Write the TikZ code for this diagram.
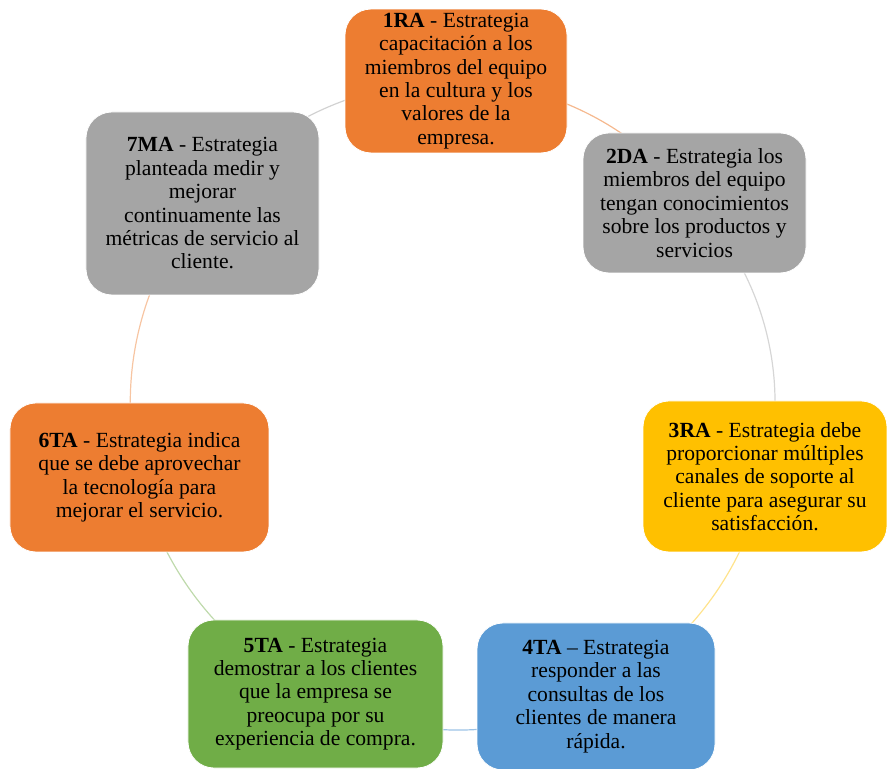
\documentclass[tikz,border=0pt]{standalone}
\usepackage{fontspec}
\setmainfont{Liberation Serif}
\usetikzlibrary{backgrounds}

\definecolor{naranja}{HTML}{ED7D31}
\definecolor{gris}{HTML}{A5A5A5}
\definecolor{amarillo}{HTML}{FFC000}
\definecolor{azul}{HTML}{5B9BD5}
\definecolor{verde}{HTML}{70AD47}

\tikzset{
  caja/.style={rounded corners=13pt,align=center,inner sep=2pt,draw=white,line width=0.4pt,
    font=\fontsize{10.8}{11.7}\selectfont,text=black},
  arco/.style={line width=0.6pt,looseness=0.9}
}

\begin{document}
\begin{tikzpicture}[x=0.5pt,y=0.5pt]
            \useasboundingbox (-456,-363) rectangle (431,406);

            \node[caja,fill=naranja,minimum width=111pt,minimum height=71pt] (e_1) at (0,325)
              {\textbf{1RA} - Estrategia\\capacitación a los\\miembros del equipo\\en la cultura y los\\valores de la\\empresa.};
            \node[caja,fill=gris,minimum width=111.5pt,minimum height=70pt] (e_2) at (238.5,203)
              {\textbf{2DA} - Estrategia los\\miembros del equipo\\tengan conocimientos\\sobre los productos y\\servicios};
            \node[caja,fill=amarillo,minimum width=122pt,minimum height=75.5pt] (e_3) at (309,-70.5)
              {\textbf{3RA} - Estrategia debe\\proporcionar múltiples\\canales de soporte al\\cliente para asegurar su\\satisfacción.};
            \node[caja,fill=azul,minimum width=119pt,minimum height=73.5pt] (e_4) at (140,-290.5)
              {\textbf{4TA} -- Estrategia\\responder a las\\consultas de los\\clientes de manera\\rápida.};
            \node[caja,fill=verde,minimum width=127.5pt,minimum height=74pt] (e_5) at (-140.5,-288)
              {\textbf{5TA} - Estrategia\\demostrar a los clientes\\que la empresa se\\preocupa por su\\experiencia de compra.};
            \node[caja,fill=naranja,minimum width=129.5pt,minimum height=74.5pt] (e_6) at (-316.5,-71.5)
              {\textbf{6TA} - Estrategia indica\\que se debe aprovechar\\la tecnología para\\mejorar el servicio.};
            \node[caja,fill=gris,minimum width=116.5pt,minimum height=91.5pt] (e_7) at (-253.5,202.5)
              {\textbf{7MA} - Estrategia\\planteada medir y\\mejorar\\continuamente las\\métricas de servicio al\\cliente.};

            \begin{scope}[on background layer]
              \draw[arco,naranja!55] (e_1.center) to[bend left=26] (e_2.center);
              \draw[arco,gris!45] (e_2.center) to[bend left=30] (e_3.center);
              \draw[arco,amarillo!45] (e_3.center) to[bend left=26] (e_4.center);
              \draw[arco,azul!60] (e_4.center) to[bend left=28] (e_5.center);
              \draw[arco,verde!45] (e_5.center) to[bend left=26] (e_6.center);
              \draw[arco,naranja!45] (e_6.center) to[bend left=27] (e_7.center);
              \draw[arco,gris!50] (e_7.center) to[bend left=26] (e_1.center);
            \end{scope}
          \end{tikzpicture}
\end{document}
